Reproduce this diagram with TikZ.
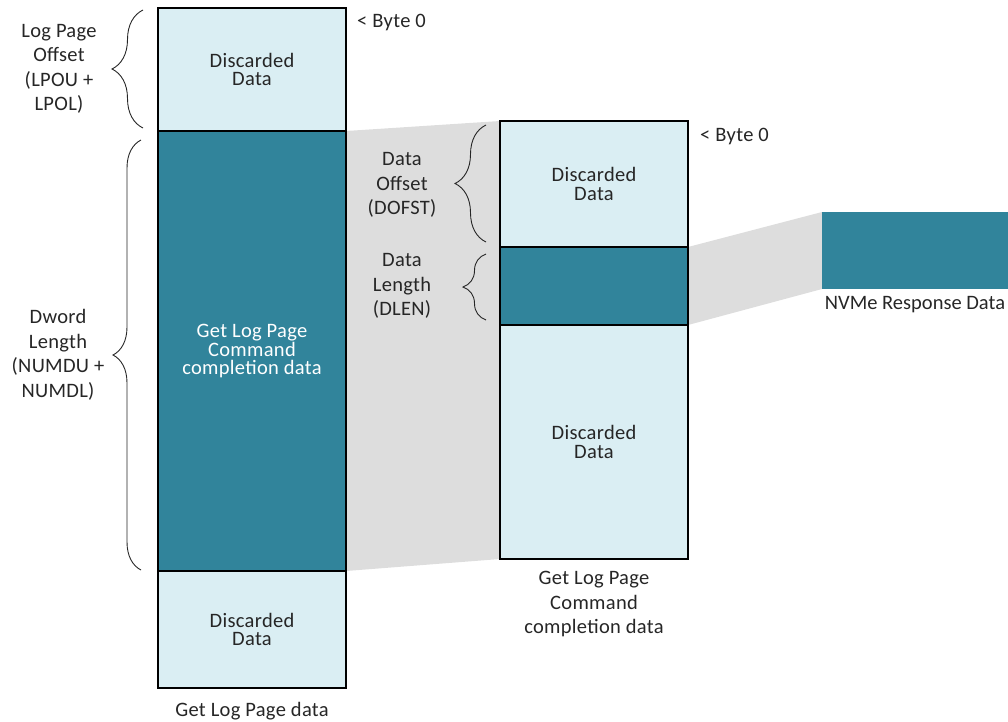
\documentclass[tikz,border=0pt]{standalone}
\usepackage{fontspec}
\setmainfont{Carlito}[LetterSpace=1.5]
\usetikzlibrary{positioning,decorations.pathreplacing,backgrounds}
\definecolor{paleblue}{HTML}{DAEEF3}
\definecolor{tealfill}{HTML}{31849B}
\definecolor{zoomgrey}{HTML}{DDDDDD}
\definecolor{inkgrey}{HTML}{262626}

\begin{document}
\begin{tikzpicture}[
  x=1pt, y=-1pt,
  every node/.style={font=\fontsize{20.5}{24.5}\selectfont, text=inkgrey},
  cell/.style={draw=black, line width=1.5pt, outer sep=0pt, inner sep=0pt, minimum width=188pt, align=center, font=\fontsize{20.5}{18.5}\selectfont},
  disc/.style={cell, fill=paleblue},
  used/.style={cell, fill=tealfill, text=white},
  lbl/.style={align=center, inner sep=0pt},
  brc/.style={draw=inkgrey, line width=0.9pt, decorate}
]
\useasboundingbox (0,0) rectangle (1008,721);

\node[disc, minimum height=123pt, anchor=north west] (lpoff) at (158,8) {Discarded\\Data};
\node[used, minimum height=440pt, below=0pt of lpoff] (lpcmd) {Get Log Page\\Command\\completion data};
\node[disc, minimum height=117pt, below=0pt of lpcmd] (lprest) {Discarded\\Data};
\node[lbl, below=14pt of lprest] (lpcap) {Get Log Page data};

\node[disc, minimum height=126pt, anchor=north west] (dofst) at (500,121) {Discarded\\Data};
\node[used, minimum height=78pt, below=0pt of dofst] (dlen) {};
\node[disc, minimum height=234pt, below=0pt of dlen] (drest) {Discarded\\Data};
\node[lbl, below=12pt of drest] (dcap) {Get Log Page\\Command\\completion data};

\node[fill=tealfill, minimum width=188pt, minimum height=77pt, inner sep=0pt, outer sep=0pt, anchor=north west] (nvme) at (822,212) {};
\node[lbl, below=7pt of nvme, xshift=-1pt, font=\fontsize{20.5}{24.5}\selectfont\addfontfeature{LetterSpace=0}] (nvcap) {NVMe Response Data};

\node[lbl, anchor=base west] (byte1) at (357,27) {< Byte 0};
\node[lbl, anchor=base west] (byte2) at (700,141) {< Byte 0};

\node[lbl] (lpolbl) at (59,69) {Log Page\\Offset\\(LPOU +\\LPOL)};
\node[lbl] (numlbl) at (58,355) {Dword\\Length\\(NUMDU +\\NUMDL)};
\node[lbl] (dofstlbl) at (402,185) {Data\\Offset\\(DOFST)};
\node[lbl] (dlenlbl) at (402,286) {Data\\Length\\(DLEN)};

\draw[brc, decoration={brace, amplitude=31pt}] ([shift={(-15pt,3pt)}]lpoff.south west) -- ([shift={(-15pt,-2pt)}]lpoff.north west);
\draw[brc, decoration={brace, amplitude=28pt}] ([shift={(-17pt,1pt)}]lpcmd.south west) -- ([shift={(-17pt,-9pt)}]lpcmd.north west);
\draw[brc, decoration={brace, amplitude=31pt}] ([shift={(-14pt,5pt)}]dofst.south west) -- ([shift={(-14pt,-4pt)}]dofst.north west);
\draw[brc, decoration={brace, amplitude=23pt}] ([shift={(-14pt,5pt)}]dlen.south west) -- ([shift={(-14pt,-7pt)}]dlen.north west);

\begin{scope}[on background layer]
\fill[zoomgrey] (lpcmd.north east) -- (dofst.north west) -- (drest.south west) -- (lpcmd.south east) -- cycle;
\fill[zoomgrey] (dlen.north east) -- (nvme.north west) -- (nvme.south west) -- (dlen.south east) -- cycle;
\end{scope}
\end{tikzpicture}
\end{document}
